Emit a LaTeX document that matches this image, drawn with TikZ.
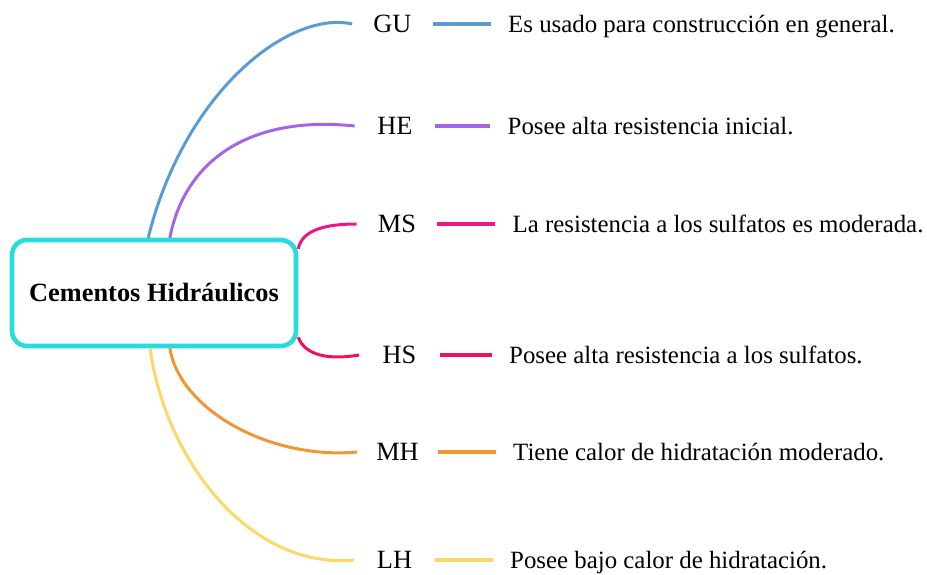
\documentclass[tikz,border=0pt]{standalone}
\usepackage{fontspec}
\setmainfont{Liberation Serif}
\usetikzlibrary{positioning}
\definecolor{cian}{RGB}{38,220,220}
\definecolor{azul}{RGB}{91,155,213}
\definecolor{lila}{RGB}{165,100,228}
\definecolor{rosa}{RGB}{236,20,140}
\definecolor{fucsia}{RGB}{240,15,90}
\definecolor{naranja}{RGB}{240,150,50}
\definecolor{amarillo}{RGB}{255,215,100}
\begin{document}
\begin{tikzpicture}
		[x=0.02cm,y=-0.02cm,node distance=1.16cm,
		root/.style={draw=cian,line width=2.6pt,rounded corners=0.3cm,fill=white,minimum width=5.68cm,minimum height=2.12cm,text height=0.42cm,text depth=0.07cm,font=\fontsize{15}{18}\selectfont\bfseries},
		abbr/.style={minimum width=1.6cm,inner sep=0pt,text height=0.42cm,text depth=0.07cm,font=\fontsize{15}{18}\selectfont},
		desc/.style={inner xsep=0.34cm,inner ysep=0pt,text height=0.42cm,text depth=0.07cm,font=\fontsize{14.15}{17}\selectfont},
		branch/.style={line width=1.7pt},
		bar/.style={line width=2.8pt}]
		\useasboundingbox (0,0) rectangle (927,575);
		\node[root,name=root]at(154,293){Cementos Hidráulicos};
		\node[abbr,name=gu]at(392.5,24){GU};
		\node[abbr,name=he]at(395,126){HE};
		\node[abbr,name=ms]at(397,224){MS};
		\node[abbr,name=hs]at(399.5,355){HS};
		\node[abbr,name=mh]at(397.5,452){MH};
		\node[abbr,name=lh]at(394.5,560){LH};
		\node[desc,right=of gu,name=gud]{Es usado para construcción en general.};
		\node[desc,right=1.1cm of he,name=hed]{Posee alta resistencia inicial.};
		\node[desc,right=of ms,name=msd]{La resistencia a los sulfatos es moderada.};
		\node[desc,right=1.04cm of hs,name=hsd]{Posee alta resistencia a los sulfatos.};
		\node[desc,right=of mh,name=mhd]{Tiene calor de hidratación moderado.};
		\node[desc,right=of lh,name=lhd]{Posee bajo calor de hidratación.};
		\draw[branch,azul] (root.96) .. controls (185,90) and (290,10) .. (gu.west);
		\draw[branch,lila] (root.74) .. controls (185,160) and (250,115) .. (he.west);
		\draw[branch,rosa] (root.17) .. controls (302,230) and (325,224) .. (ms.west);
		\draw[branch,fucsia] (root.-17) .. controls (305,356) and (330,360) .. (hs.west);
		\draw[branch,naranja] (root.-74) .. controls (180,410) and (270,460) .. (mh.west);
		\draw[branch,amarillo] (root.-94) .. controls (165,460) and (250,570) .. (lh.west);
		\draw[bar,azul] (gu.east) -- (gud.west);
		\draw[bar,lila] (he.east) -- (hed.west);
		\draw[bar,rosa] (ms.east) -- (msd.west);
		\draw[bar,fucsia] (hs.east) -- (hsd.west);
		\draw[bar,naranja] (mh.east) -- (mhd.west);
		\draw[bar,amarillo] (lh.east) -- (lhd.west);
	\end{tikzpicture}
\end{document}
